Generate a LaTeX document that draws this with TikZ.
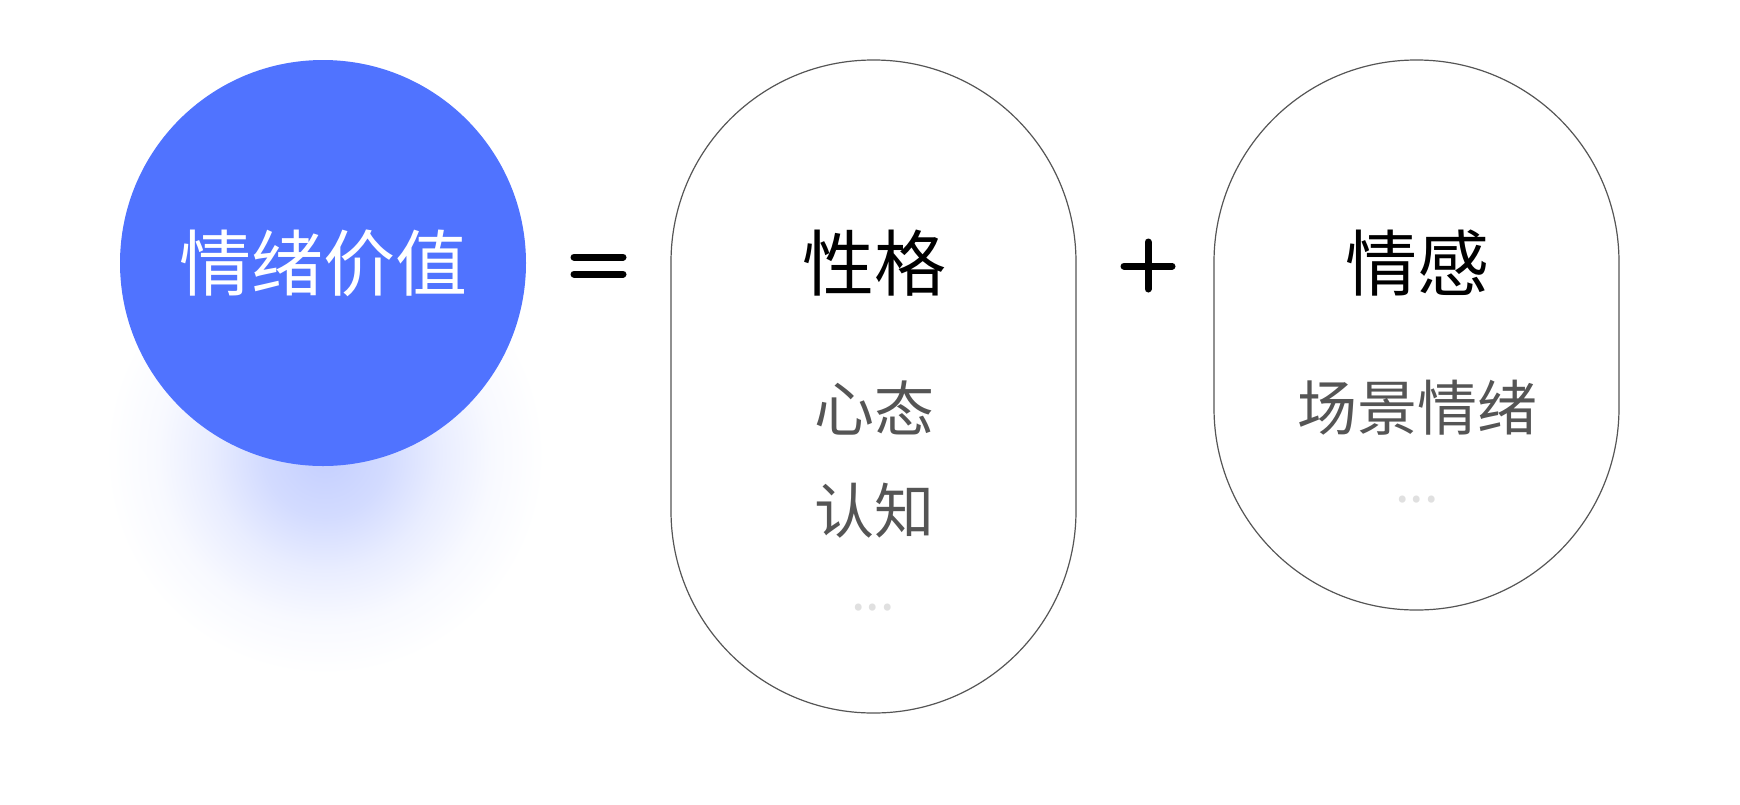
\documentclass[tikz,border=0pt]{standalone}
\usepackage{fontspec}
\newfontfamily\cjk{Noto Sans CJK SC}
\definecolor{mainblue}{HTML}{5073FF}
\definecolor{glowc}{HTML}{C4CFFF}
\definecolor{subgray}{HTML}{555555}
\definecolor{outline}{HTML}{555555}
\definecolor{dotgray}{HTML}{E0E0E0}
\pgfdeclareradialshading{glow}{\pgfpoint{0bp}{0bp}}{color(0bp)=(glowc); color(7bp)=(glowc!75!white); color(13bp)=(glowc!38!white); color(19bp)=(glowc!12!white); color(25bp)=(white); color(50bp)=(white)}
\tikzset{
  pill/.style={draw=outline, line width=1.2pt, rounded corners=202pt},
  title/.style={font=\cjk\fontsize{72}{80}\selectfont, text=black, inner sep=0pt},
  sub/.style={font=\cjk\fontsize{60}{68}\selectfont, text=subgray, inner sep=0pt},
  more/.style={font=\cjk\fontsize{52}{56}\selectfont, text=dotgray, inner sep=0pt},
  opbar/.style={line width=7pt, line cap=round, draw=black},
}
\begin{document}
\begin{tikzpicture}[x=1pt,y=-1pt]
\useasboundingbox (0,0) rectangle (1740,804);
% glow shadow
\shade[shading=glow] (325,455) circle (220);
% main circle
\fill[mainblue] (323,263) circle (203);
\node[title, text=white] (main) at (323,263) {情绪价值};
% equals
\coordinate (eqA1) at (574,257); \coordinate (eqA2) at (623,257);
\coordinate (eqB1) at (574,274); \coordinate (eqB2) at (623,274);
\draw[opbar] (eqA1) -- (eqA2);
\draw[opbar] (eqB1) -- (eqB2);
% pill 1
\draw[pill] (671,60) rectangle (1076,713);
\node[title] (xg) at (874,263) {性格};
\node[sub] (xt) at (874,408) {心态};
\node[sub] (rz) at (874,511) {认知};
\node[more] (m1) at (873,608) {...};
% plus
\coordinate (plH1) at (1124,266); \coordinate (plH2) at (1172,266);
\coordinate (plV1) at (1148,242); \coordinate (plV2) at (1148,289);
\draw[opbar] (plH1) -- (plH2);
\draw[opbar] (plV1) -- (plV2);
% pill 2
\draw[pill] (1214,60) rectangle (1619,610);
\node[title] (qg) at (1417,263) {情感};
\node[sub] (cj) at (1417,408) {场景情绪};
\node[more] (m2) at (1417,500) {...};
\end{tikzpicture}
\end{document}
